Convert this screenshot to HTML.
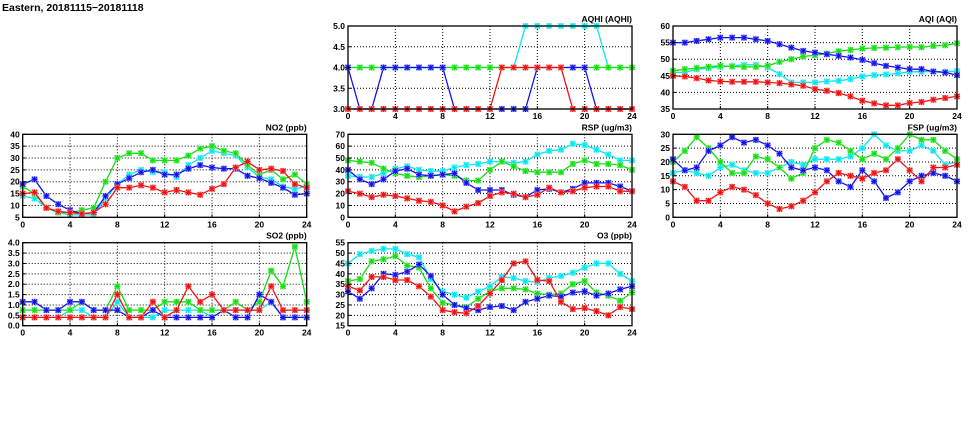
<!DOCTYPE html>
<html><head><meta charset="utf-8">
<style>
html,body{margin:0;padding:0;background:#fff;}
svg{display:block;font-family:"Liberation Sans",sans-serif;}
</style></head>
<body>
<svg id="chart" width="975" height="447" viewBox="0 0 975 447">
<text x="2" y="11" font-size="10.5" font-weight="bold">Eastern, 20181115−20181118</text>
</svg>
<script>
// ---- data ----
const hours = [0,1,2,3,4,5,6,7,8,9,10,11,12,13,14,15,16,17,18,19,20,21,22,23,24];
const xTicks = [0,4,8,12,16,20,24];

const aqhiGreen = [4,4,4,4,4,4,4,4,4,4,4,4,4,4,4,4,4,4,4,4,4,4,4,4,4];
const aqhiCyan  = [4,4,4,4,4,4,4,4,4,4,4,4,4,4,4,5,5,5,5,5,5,5,4,4,4];
const aqhiBlue  = [4,3,3,4,4,4,4,4,4,3,3,3,3,3,3,3,4,4,4,4,4,3,3,3,3];
const aqhiRed   = [3,3,3,3,3,3,3,3,3,3,3,3,3,4,4,4,4,4,4,3,3,3,3,3,3];
const aqhiTicks = [3.0,3.5,4.0,4.5,5.0];

const aqiBlue  = [55,55,55.5,56,56.5,56.5,56.5,56,55.5,54.5,53.5,52.5,52,51.5,51,50.5,49.8,48.8,48,47.5,47,47,46.3,46,45.2];
const aqiGreen = [46.5,47,47.3,47.7,48,47.8,47.7,47.7,48,49.2,50,50.8,51.2,51.7,52.4,52.8,53.2,53.4,53.5,53.6,53.7,53.6,54,54.2,54.8];
const aqiCyan  = [46,46,47,47.3,47.7,48,48.3,48.3,47.5,45.5,43,43,43,43.3,43.5,44,44.8,45.2,45.4,45.7,46.2,46.2,46.3,46.2,46.4];
const aqiRed   = [45,44.8,44.3,43.6,43.3,43.2,43.2,43.2,43,42.8,42.4,42,41,40.5,39.8,38.8,37.5,36.7,36.1,36.1,36.8,37.1,37.8,38.3,38.8];
const aqiTicks = [35,40,45,50,55,60];

const no2Green = [18,15,9,7,7,8,9,20,30,32,32,29,29,29,31,34,35,33,32,27,23,25,21,23,19];
const no2Cyan  = [14,13,9,7,6,6,6,13,19,23,25,24,24,22,27,30,33,32,31,26,22,21,18,17,18];
const no2Blue  = [19,21,14,10.5,8,6.5,7,14,19,21.5,24,25,23,23,25.5,27,26,25.5,25.5,22.5,21.5,19.5,17.5,14.5,15];
const no2Red   = [15,15.5,9,7.5,7,6.5,7,10.5,17.5,17.5,18.5,17.5,15.5,16.5,15.5,14.5,17,19,26,28.5,25,25.5,24.5,19,17.5];
const no2Ticks = [5,10,15,20,25,30,35,40];

const rspCyan  = [35,34,34,37,41,43,40,39,39,42,44,45,47,47,46,47,53,56,57,62,61,57,53,48,48];
const rspGreen = [48,47,46,41,37,35,34,35,36,35,31,31,40,47,43,39,38,38,38,45,48,45,45,44,40];
const rspBlue  = [40,32,28,32,39,41,36,35,36,37,29,23,23,23,19,17,23,24,21,24,29,29,29,26,22];
const rspRed   = [22,20,17,19,18,16,14,13,10,5,9,12,18,21,20,17,19,25,21,22,25,26,26,22,22];
const rspTicks = [0,10,20,30,40,50,60,70];

const fspGreen = [20,24,29,25,20,16,16,22,21,18,14,16,25,28,27,24,21,23,21,25,30,28,28,24,21];
const fspCyan  = [16,17,16,15,18,19,17,16,16,18,20,19,21,21,21,22,25,30,26,24,24,26,24,19,20];
const fspBlue  = [21,17,18,24,26,29,27,28,26,23,18,17,18,17,13,11,17,13,7,9,13,15,16,15,13];
const fspRed   = [13,11,6,6,9,11,10,8,5,3,4,6,9,13,16,15,14,16,17,21,17,13,18,18,19];
const fspTicks = [0,5,10,15,20,25,30];

const so2Green = [.75,.75,.75,.75,.75,1.15,.75,.75,1.9,.75,.75,.75,1.15,1.15,1.15,.75,.75,.75,1.15,.75,1.15,2.65,1.9,3.8,1.15];
const so2Cyan  = [.4,.4,.4,.4,.75,.75,.4,.4,1.15,.4,.4,.4,.75,.75,.75,.75,.4,.75,.75,.75,.75,1.15,.4,.4,.4];
const so2Blue  = [1.15,1.15,.75,.75,1.15,1.15,.75,.75,.75,.4,.4,.75,.4,.4,.4,.4,.4,.75,.4,.4,1.5,1.15,.4,.4,.4];
const so2Red   = [.4,.4,.4,.4,.4,.4,.4,.4,1.5,.4,.4,1.15,.4,.75,1.9,1.15,1.5,.75,.75,.75,.75,1.9,.75,.75,.75];
const so2Ticks = [0.0,0.5,1.0,1.5,2.0,2.5,3.0,3.5,4.0];

const o3Cyan  = [45,49.5,51,52,52,49.5,48,37.5,31.5,30,28.5,31.5,34,38.5,38,36.5,36,38,39,40.5,43,45,45,40,36.5];
const o3Green = [36.5,37.5,46,47,48.5,44,43,33,26,25,24,28,31.5,33,33,32.5,30.5,30,30.5,35,36.5,31,29.5,27,31];
const o3Blue  = [31.5,28,33,40,39.5,41,44.5,39,30,25,23.5,22.5,24,24.5,22.5,26.5,28,29.5,29,31,31.5,29.5,30.5,32.5,34];
const o3Red   = [34,32,38.5,38.5,37,37,34,29,22.5,21.5,21,24.5,30.5,37,45,46,37,36.5,26.5,23,23.5,22,20,24,23];
const o3Ticks = [15,20,25,30,35,40,45,50,55];

// ---- drawing ----
const NS = "http://www.w3.org/2000/svg";
const svg = document.getElementById('chart');
const COL = {cyan:"#00e8f0", green:"#10e010", blue:"#1010f0", red:"#f01010"};
const LIGHT = {cyan:"#a0f4f8", green:"#a0f0a0", blue:"#a0a0f8", red:"#f8a0a0"};

function mk(tag, attrs, parent){
  const e = document.createElementNS(NS, tag);
  for (const k in attrs) e.setAttribute(k, attrs[k]);
  (parent||svg).appendChild(e);
  return e;
}

function panel(name, title, x0, y0, yTicks, series){
  const W = 284, H = 83;
  const ymin = yTicks[0], ymax = yTicks[yTicks.length-1];
  const xs = v => x0 + v/24*W;
  const ys = v => y0 + H - (v-ymin)/(ymax-ymin)*H;
  const g = mk('g', {});
  
  
  // grid
  xTicks.forEach(t => {
    if (t===0||t===24) return;
    const l = mk('line', {x1:xs(t), x2:xs(t), y1:y0, y2:y0+H, stroke:"#000", 'stroke-width':1, 'stroke-dasharray':"1,2"}, g);
    
    
  });
  yTicks.forEach(t => {
    if (t===ymin||t===ymax) return;
    const l = mk('line', {x1:x0, x2:x0+W, y1:ys(t), y2:ys(t), stroke:"#000", 'stroke-width':1, 'stroke-dasharray':"1,2"}, g);
    
    
  });
  // series
  series.forEach(s => {
    const pts = s.data.map((v,i) => xs(hours[i]).toFixed(1)+','+ys(v).toFixed(1)).join(' ');
    const pl = mk('polyline', {points:pts, fill:"none", stroke:COL[s.c], 'stroke-width':1.3}, g);
    
    
    s.data.forEach((v,i) => {
      const cx = xs(hours[i]), cy = ys(v);
      const m = mk('g', {}, g);
      
      
      mk('rect', {x:cx-3, y:cy-3, width:6, height:6, fill:LIGHT[s.c]}, m);
      mk('path', {d:`M${cx-2.5},${cy-2.5}L${cx+2.5},${cy+2.5}M${cx-2.5},${cy+2.5}L${cx+2.5},${cy-2.5}M${cx},${cy-3}L${cx},${cy+3}M${cx-3},${cy}L${cx+3},${cy}`, stroke:COL[s.c], 'stroke-width':1.1}, m);
    });
  });
  // frame
  const fr = mk('rect', {x:x0, y:y0, width:W, height:H, fill:"none", stroke:"#000", 'stroke-width':1.3}, g);
  
  
  // ticks + labels
  const dec = yTicks.some(t => t % 1 !== 0);
  yTicks.forEach(t => {
    mk('line', {x1:x0, x2:x0+3, y1:ys(t), y2:ys(t), stroke:"#000"}, g);
    const tx = mk('text', {x:x0-3, y:ys(t)+3, 'font-size':8.5, 'font-weight':'bold', 'text-anchor':'end'}, g);
    tx.textContent = dec ? t.toFixed(1) : String(t);
    
    
  });
  xTicks.forEach(t => {
    mk('line', {x1:xs(t), x2:xs(t), y1:y0+H, y2:y0+H-3, stroke:"#000"}, g);
    const tx = mk('text', {x:xs(t), y:y0+H+10, 'font-size':8.5, 'font-weight':'bold', 'text-anchor':'middle'}, g);
    tx.textContent = String(t);
    
    
  });
  const tt = mk('text', {x:x0+W, y:y0-4, 'font-size':8.5, 'font-weight':'bold', 'text-anchor':'end'}, g);
  tt.textContent = title;
  
  
}

panel('aqhi', 'AQHI (AQHI)', 348, 26, aqhiTicks, [
  {c:'cyan', data:aqhiCyan},{c:'green', data:aqhiGreen},{c:'blue', data:aqhiBlue},{c:'red', data:aqhiRed}]);
panel('aqi', 'AQI (AQI)', 673, 26, aqiTicks, [
  {c:'cyan', data:aqiCyan},{c:'green', data:aqiGreen},{c:'blue', data:aqiBlue},{c:'red', data:aqiRed}]);
panel('no2', 'NO2 (ppb)', 22.7, 134.3, no2Ticks, [
  {c:'cyan', data:no2Cyan},{c:'green', data:no2Green},{c:'blue', data:no2Blue},{c:'red', data:no2Red}]);
panel('rsp', 'RSP (ug/m3)', 348, 134.3, rspTicks, [
  {c:'cyan', data:rspCyan},{c:'green', data:rspGreen},{c:'blue', data:rspBlue},{c:'red', data:rspRed}]);
panel('fsp', 'FSP (ug/m3)', 673, 134.3, fspTicks, [
  {c:'cyan', data:fspCyan},{c:'green', data:fspGreen},{c:'blue', data:fspBlue},{c:'red', data:fspRed}]);
panel('so2', 'SO2 (ppb)', 22.7, 242.7, so2Ticks, [
  {c:'cyan', data:so2Cyan},{c:'green', data:so2Green},{c:'blue', data:so2Blue},{c:'red', data:so2Red}]);
panel('o3', 'O3 (ppb)', 348, 242.7, o3Ticks, [
  {c:'cyan', data:o3Cyan},{c:'green', data:o3Green},{c:'blue', data:o3Blue},{c:'red', data:o3Red}]);
</script>
</body></html>
